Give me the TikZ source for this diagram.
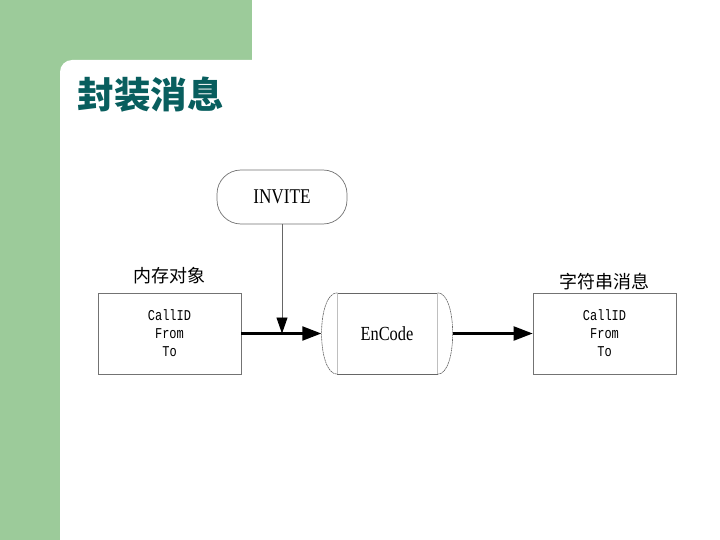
\documentclass[tikz,border=0pt]{standalone}
\usepackage{fontspec}
\setmainfont{Liberation Serif}
\newfontfamily\cjk{Noto Sans CJK SC}
\newfontfamily\fieldfont{Liberation Mono}[FakeStretch=0.8]
\newfontfamily\boxfont{Liberation Serif}[FakeStretch=0.82]
\usetikzlibrary{arrows.meta, positioning}
\definecolor{slidegreen}{RGB}{156,203,154}
\definecolor{titleteal}{RGB}{8,94,94}
\tikzset{
  msgbox/.style={rectangle, draw=black!55, line width=0.7pt, minimum width=143pt,
    minimum height=81pt, align=center, font=\fieldfont\fontsize{15}{18}\selectfont},
  caption/.style={inner sep=2pt, font=\cjk\fontsize{18}{20}\selectfont},
  pill/.style={rectangle, draw=black!55, line width=0.7pt, rounded corners=24pt,
    minimum width=130pt, minimum height=54pt, font=\boxfont\fontsize{21}{22}\selectfont},
  coder/.style={rectangle, minimum width=131pt, minimum height=81pt,
    font=\boxfont\fontsize{20}{22}\selectfont},
  bulge/.style={draw=black!60, line width=0.6pt, dash pattern=on 2pt off 0.6pt},
  flow/.style={-{Triangle[length=19pt, width=14pt]}, line width=2.2pt},
  feed/.style={-{Triangle[length=16pt, width=11pt, color=black]}, draw=black!60, line width=0.9pt}
}

\begin{document}
\begin{tikzpicture}[x=1pt, y=-1pt]
  \useasboundingbox (0,0) rectangle (720,540);
  % slide background
  \fill[slidegreen] (0,0) rectangle (252,540);
  \fill[white, rounded corners=12pt] (60,60) rectangle (740,560);
  \node[anchor=west, text=titleteal, font=\cjk\bfseries\fontsize{36.5}{37}\selectfont] (title) at (74,95) {封装消息};

  \node[msgbox] (mem) at (169.5,333.5) {CallID\\From\\To};
  \node[caption, above=6pt of mem] (memlabel) {内存对象};
  \node[msgbox] (str) at (604.5,333.5) {CallID\\From\\To};
  \node[caption, above=1pt of str] (strlabel) {字符串消息};
  \node[pill] (invite) at (282,197) {INVITE};
  \node[coder] (encode) at (387,333.5) {EnCode};

  % encoder outline
  \draw[black!60, line width=0.6pt] ([xshift=16pt]encode.north west) -- ([xshift=-15pt]encode.north east)
    ([xshift=16pt]encode.south west) -- ([xshift=-15pt]encode.south east);
  \draw[black!25, line width=0.8pt] ([xshift=16pt]encode.north west) -- ([xshift=16pt]encode.south west)
    ([xshift=-15pt]encode.north east) -- ([xshift=-15pt]encode.south east);
  \draw[bulge] ([xshift=16pt]encode.north west) .. controls +(-21,0) and +(-21,0) .. ([xshift=16pt]encode.south west);
  \draw[bulge] ([xshift=-15pt]encode.north east) .. controls +(20,0) and +(20,0) .. ([xshift=-15pt]encode.south east);

  \coordinate (join) at (invite |- mem.east);
  \draw[flow] (mem) -- (encode);
  \draw[feed] (invite) -- (join);
  \draw[flow] (encode) -- (str);
\end{tikzpicture}
\end{document}
